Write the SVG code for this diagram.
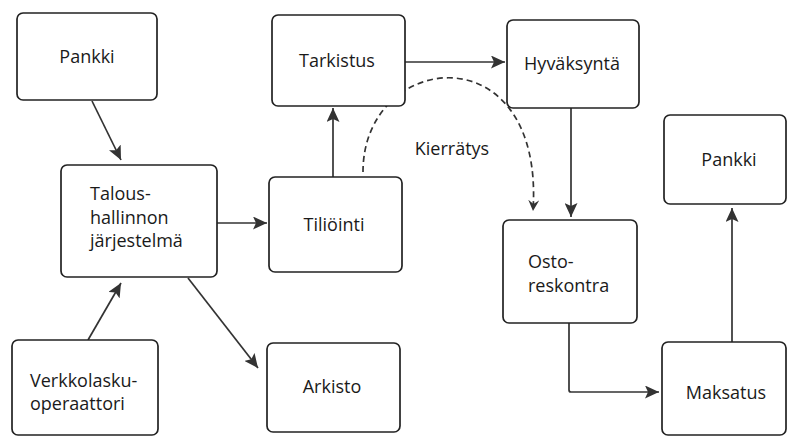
<svg xmlns="http://www.w3.org/2000/svg" width="789" height="437" viewBox="0 0 789 437">
<defs>
<style>
.box{fill:#fff;stroke:#222;stroke-width:1.7}
.t{font-family:"Open Sans","Noto Sans","Liberation Sans",sans-serif;font-size:18px;fill:#1a1a1a}
.c{text-anchor:middle}
.ln{fill:none;stroke:#333;stroke-width:1.7}
.dash{fill:none;stroke:#333;stroke-width:1.7;stroke-dasharray:6 4}
</style>
<marker id="ah" markerUnits="userSpaceOnUse" markerWidth="15" markerHeight="13" refX="14" refY="6.5" orient="auto">
<path d="M0,0 L14,6.5 L0,13 L3,6.5 Z" fill="#333"/>
</marker>
<marker id="ahs" markerUnits="userSpaceOnUse" markerWidth="12" markerHeight="11" refX="11" refY="5.5" orient="auto">
<path d="M0,0 L11,5.5 L0,11 L4,5.5 Z" fill="#333"/>
</marker>
</defs>
<rect width="789" height="437" fill="#fff"/>
<g id="connectors">
<line class="ln" x1="92" y1="101" x2="121" y2="160" marker-end="url(#ah)"/>
<line class="ln" x1="88" y1="340" x2="121" y2="283" marker-end="url(#ah)"/>
<line class="ln" x1="217" y1="223" x2="267" y2="223" marker-end="url(#ah)"/>
<line class="ln" x1="188" y1="278" x2="258" y2="368" marker-end="url(#ah)"/>
<line class="ln" x1="333" y1="177" x2="333" y2="108" marker-end="url(#ah)"/>
<line class="ln" x1="405" y1="62" x2="505" y2="62" marker-end="url(#ah)"/>
<line class="ln" x1="571" y1="108" x2="571" y2="217" marker-end="url(#ah)"/>
<path class="ln" d="M569,323 V390 Q569,392 571,392 H659" marker-end="url(#ah)"/>
<line class="ln" x1="732" y1="342" x2="732" y2="208" marker-end="url(#ah)"/>
<path class="dash" d="M363,172 C363,50 545,30 533,211" marker-end="url(#ahs)"/>
<text class="t c" x="452" y="155">Kierrätys</text>
</g>
<g id="pankki1">
<rect class="box" x="17" y="13" width="140" height="87" rx="6"/>
<text class="t c" x="87" y="63">Pankki</text>
</g>
<g id="talous">
<rect class="box" x="61" y="165" width="156" height="112" rx="6"/>
<text class="t" x="90" y="200">Talous-</text>
<text class="t" x="90" y="224">hallinnon</text>
<text class="t" x="90" y="247">järjestelmä</text>
</g>
<g id="verkkolasku">
<rect class="box" x="12" y="340" width="146" height="95" rx="6"/>
<text class="t" x="30" y="387">Verkkolasku-</text>
<text class="t" x="30" y="410">operaattori</text>
</g>
<g id="tilliointi">
<rect class="box" x="269" y="177" width="133" height="95" rx="6"/>
<text class="t c" x="334" y="231">Tiliöinti</text>
</g>
<g id="arkisto">
<rect class="box" x="267" y="343" width="133" height="89" rx="6"/>
<text class="t c" x="332" y="393">Arkisto</text>
</g>
<g id="tarkistus">
<rect class="box" x="272" y="15" width="133" height="91" rx="6"/>
<text class="t c" x="337" y="67">Tarkistus</text>
</g>
<g id="hyvaksynta">
<rect class="box" x="507" y="20" width="132" height="88" rx="6"/>
<text class="t c" x="572" y="70">Hyväksyntä</text>
</g>
<g id="ostoreskontra">
<rect class="box" x="503" y="220" width="134" height="103" rx="6"/>
<text class="t" x="528" y="268">Osto-</text>
<text class="t" x="528" y="292">reskontra</text>
</g>
<g id="pankki2">
<rect class="box" x="664" y="115" width="122" height="89" rx="6"/>
<text class="t c" x="729" y="166">Pankki</text>
</g>
<g id="maksatus">
<rect class="box" x="662" y="342" width="124" height="93" rx="6"/>
<text class="t c" x="726" y="399">Maksatus</text>
</g>
</svg>
